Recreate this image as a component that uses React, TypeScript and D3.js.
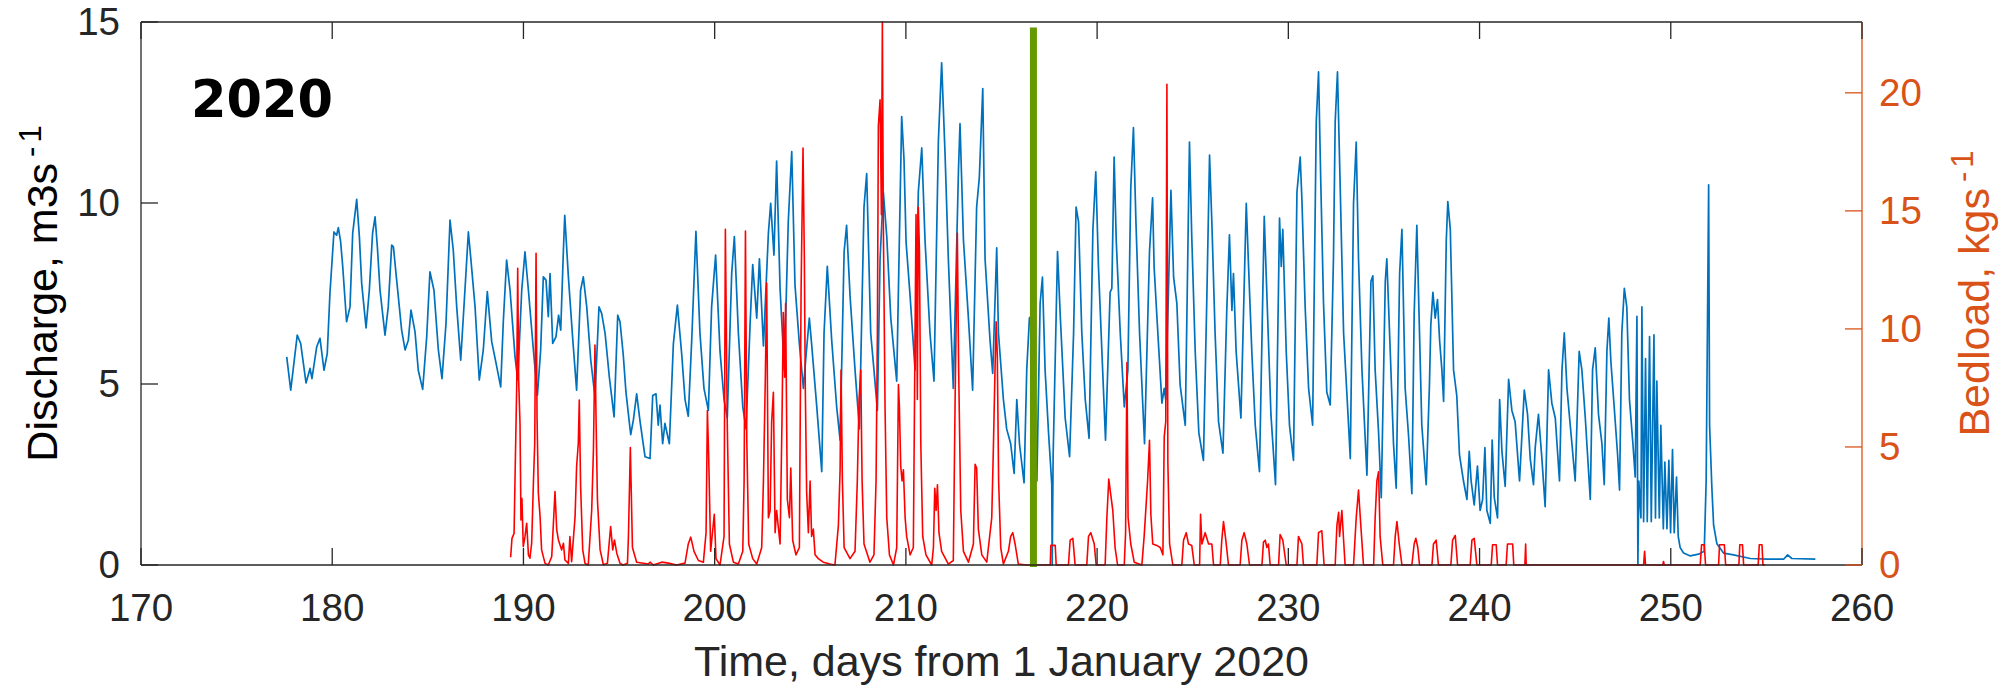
import React from 'react';
import * as d3 from 'd3';

// ---------- data ----------
const xTicks = [170, 180, 190, 200, 210, 220, 230, 240, 250, 260];
const leftTicks = [0, 5, 10, 15];
const rightTicks = [0, 5, 10, 15, 20];
const yearLabel = '2020';
const markerDay = 216.67;
const markerTop = 14.85;

// Discharge, m3/s : [day, value]
const discharge: [number, number][] = [
  [177.62,5.75],[177.83,4.83],[178.17,6.35],[178.35,6.12],[178.63,5.03],[178.84,5.43],[178.94,5.15],[179.19,6.03],[179.36,6.26],[179.57,5.38],[179.74,5.84],[179.88,7.50],[180.09,9.20],[180.23,9.11],[180.32,9.32],[180.44,8.93],[180.55,8.24],[180.75,6.72],[180.93,7.13],[181.07,9.16],[181.28,10.10],[181.42,9.07],[181.54,7.78],[181.77,6.55],[181.94,7.59],[182.11,9.16],[182.24,9.62],[182.36,8.79],[182.50,7.59],[182.76,6.35],[182.93,7.13],[183.11,8.84],[183.20,8.79],[183.37,7.87],[183.63,6.49],[183.81,5.94],[183.98,6.21],[184.12,7.04],[184.33,6.44],[184.50,5.38],[184.73,4.85],[184.94,6.30],[185.11,8.10],[185.32,7.59],[185.55,5.94],[185.74,5.15],[185.95,6.67],[186.16,9.53],[186.33,8.70],[186.51,7.13],[186.72,5.66],[186.94,7.59],[187.12,9.20],[187.24,8.51],[187.47,7.13],[187.69,5.11],[187.90,5.94],[188.11,7.55],[188.34,6.17],[188.57,5.57],[188.81,4.92],[188.95,6.76],[189.12,8.42],[189.30,7.59],[189.56,5.75],[189.70,5.11],[189.91,7.59],[190.08,8.65],[190.26,7.59],[190.52,5.94],[190.73,4.69],[190.90,5.94],[191.04,7.96],[191.18,7.87],[191.30,6.86],[191.39,8.05],[191.53,6.12],[191.70,6.30],[191.84,6.90],[191.95,6.49],[192.09,8.70],[192.16,9.66],[192.35,7.96],[192.57,6.30],[192.78,4.83],[192.99,7.59],[193.13,7.96],[193.31,7.13],[193.52,5.66],[193.74,4.65],[193.95,7.13],[194.09,6.95],[194.27,6.40],[194.49,5.20],[194.74,4.09],[194.93,6.90],
  [195.05,6.72],[195.22,5.80],[195.36,4.78],[195.49,4.16],[195.61,3.60],[195.75,4.01],[195.92,4.73],[196.10,3.96],[196.36,2.99],[196.62,2.94],[196.76,4.68],[196.93,4.73],[197.05,3.86],[197.14,4.42],[197.28,3.35],[197.40,3.91],[197.63,3.35],[197.84,6.11],[198.05,7.18],[198.28,5.80],[198.45,4.57],[198.62,4.11],[198.80,6.21],[199.02,9.22],[199.23,6.41],[199.44,4.88],[199.67,4.27],[199.84,7.13],[200.05,8.56],[200.28,5.90],[200.49,4.57],[200.66,4.06],[200.89,8.05],[201.03,9.07],[201.24,6.41],[201.47,4.37],[201.64,3.76],[201.85,6.62],[201.99,8.30],[202.20,6.82],[202.34,8.46],[202.55,6.05],[202.81,9.17],[202.93,9.99],[203.10,8.56],[203.24,11.16],[203.42,7.64],[203.64,5.39],[203.85,9.48],[204.03,11.42],[204.20,7.74],[204.43,6.11],[204.64,4.88],[204.78,5.80],[204.95,6.82],[205.07,6.11],[205.34,4.37],[205.60,2.58],[205.72,6.41],[205.89,8.25],[206.12,6.21],[206.38,4.37],[206.56,3.45],[206.77,8.66],[206.90,9.38],[207.08,7.43],[207.34,5.39],[207.57,3.76],[207.81,9.89],[207.95,10.81],[208.16,6.41],[208.33,5.39],[208.51,4.27],[208.65,8.46],[208.82,10.30],[209.00,9.07],[209.21,6.82],[209.52,5.08],[209.78,12.39],[209.90,11.22],[210.01,8.92],[210.22,7.43],[210.48,5.39],[210.65,10.30],[210.83,11.52],[211.00,8.97],[211.26,6.41],[211.47,5.08],[211.70,11.73],[211.87,13.87],[212.05,11.32],[212.22,8.46],[212.48,4.88],[212.75,10.91],[212.83,12.19],[213.01,8.97],[213.27,6.82],[213.49,4.83],[213.70,9.89],[213.84,10.70],[214.02,13.16],[214.14,8.46],[214.40,6.21],[214.54,5.29],[214.75,8.76],[214.84,6.41],[215.10,4.57],[215.27,3.76],[215.48,3.35],[215.66,2.53],[215.80,4.57],[215.94,3.35],[216.18,2.27],[216.32,5.39],[216.46,6.82],[216.60,6.90],[216.85,2.32],
  [217.02,7.23],[217.14,7.95],[217.28,5.39],[217.46,3.65],[217.63,2.22],[217.65,0.0],[217.70,3.00],[217.93,8.66],[218.07,6.92],[218.33,4.06],[218.56,2.99],[218.77,6.41],[218.90,9.89],[219.03,9.48],[219.20,6.41],[219.38,4.57],[219.58,3.50],[219.78,9.27],[219.93,10.86],[220.07,8.25],[220.25,5.90],[220.44,3.45],[220.68,7.53],[220.77,7.64],[220.89,11.27],[221.00,8.97],[221.21,6.41],[221.42,4.37],[221.61,5.39],[221.76,10.40],[221.90,12.08],[222.03,9.48],[222.22,6.41],[222.48,3.35],[222.74,8.66],[222.90,10.14],[222.98,8.25],[223.12,6.92],[223.39,4.47],[223.51,4.88],[223.59,4.57],[223.86,10.35],[224.00,7.95],[224.17,7.23],[224.34,4.98],[224.61,3.86],[224.83,11.68],[224.95,9.07],[225.13,5.90],[225.32,3.65],[225.56,2.89],[225.74,7.43],[225.88,11.32],[226.00,9.48],[226.17,6.41],[226.35,3.96],[226.58,3.09],[226.78,7.03],[226.92,9.12],[227.05,7.03],[227.13,8.05],[227.27,5.90],[227.52,4.06],[227.80,9.99],[227.92,8.25],[228.09,5.90],[228.27,3.86],[228.49,2.58],[228.74,9.63],[228.88,7.43],[229.09,4.16],[229.33,2.22],[229.54,9.58],[229.63,8.25],[229.71,9.27],[229.89,5.90],[230.06,3.86],[230.27,2.89],[230.45,10.30],[230.62,11.27],[230.71,10.09],[230.88,7.13],[231.06,4.88],[231.27,3.86],[231.46,12.24],[231.58,13.62],[231.70,10.50],[231.84,7.23],[232.01,4.78],[232.19,4.42],[232.36,8.46],[232.45,12.24],[232.57,13.62],[232.71,10.50],[232.89,6.41],[233.15,3.86],[233.24,2.94],[233.41,9.99],[233.55,11.68],[233.67,8.46],[233.85,5.39],[234.11,2.48],[234.32,7.84],[234.42,7.99],[234.54,5.39],[234.72,3.65],[234.86,1.86],[235.07,7.84],[235.15,8.46],[235.33,5.90],[235.50,3.35],[235.64,2.12],[235.82,8.05],
  [235.94,9.27],[236.11,4.88],[236.29,3.55],[236.46,1.97],[236.58,6.92],[236.72,9.38],[236.86,6.41],[236.98,3.86],[237.21,2.22],[237.38,4.98],[237.45,6.62],[237.56,7.53],[237.68,6.82],[237.80,7.33],[237.91,6.21],[238.03,5.39],[238.12,4.52],[238.26,8.97],[238.34,10.04],[238.47,9.27],[238.64,5.39],[238.81,4.67],[238.95,3.04],[239.16,2.32],[239.34,1.81],[239.46,3.14],[239.56,2.32],[239.72,1.66],[239.89,2.73],[240.03,1.51],[240.16,1.81],[240.28,3.24],[240.38,1.51],[240.56,1.15],[240.66,3.45],[240.77,1.86],[240.94,1.30],[241.05,4.57],[241.17,3.14],[241.34,2.17],[241.52,5.13],[241.69,4.27],[241.86,3.96],[242.09,2.32],[242.34,4.83],[242.51,4.16],[242.65,2.94],[242.82,2.22],[242.91,3.24],[243.08,4.16],[243.26,2.94],[243.43,1.61],[243.61,5.39],[243.78,4.47],[243.96,4.06],[244.18,2.32],[244.31,5.39],[244.43,6.41],[244.57,4.88],[244.83,3.35],[245.00,2.32],[245.21,5.90],[245.35,5.39],[245.53,4.06],[245.79,1.81],[245.91,5.39],[246.05,6.00],[246.22,4.16],[246.40,3.35],[246.52,2.22],[246.66,5.90],[246.76,6.82],[246.87,5.60],[247.04,4.37],[247.22,3.04],[247.32,2.07],[247.44,6.41],[247.57,7.64],[247.70,7.13],[247.84,4.57],[248.02,3.35],[248.14,2.43],[248.23,6.87],[248.28,0.0],[248.33,2.32],[248.44,1.30],[248.49,7.13],[248.58,1.20],[248.68,5.70],[248.77,1.20],[248.89,6.31],[248.98,1.20],[249.12,6.36],[249.20,1.30],[249.27,5.08],[249.40,1.30],[249.48,3.86],[249.61,1.00],[249.69,2.84],[249.80,1.00],[249.90,2.89],[249.99,0.89],[250.09,3.19],[250.18,0.89],[250.30,2.43],[250.39,0.79],[250.49,0.48],[250.67,0.33],[251.02,0.25],[251.45,0.30],[251.75,0.38],[251.85,2.32],[251.98,10.50],[252.03,3.86],[252.15,2.12],[252.24,1.10],[252.41,0.59],[252.76,0.33],[253.28,0.28],[254.16,0.18],[255.03,0.16],[255.90,0.16],[256.11,0.28],[256.33,0.18],[257.56,0.16]
];

// Bedload, kg/s : [day, value]
const bedload: [number, number][] = [
  [189.33,0.33],[189.40,1.13],[189.51,1.34],[189.56,3.67],[189.65,7.70],[189.70,12.57],[189.75,7.84],[189.82,6.00],[189.87,1.91],[189.92,2.83],[189.99,0.78],[190.08,1.20],[190.17,1.77],[190.26,0.43],[190.34,0.29],[190.43,0.92],[190.52,3.46],[190.59,5.16],[190.66,13.20],[190.71,6.29],[190.78,3.04],[190.87,2.05],[190.95,0.64],[191.13,0.07],[191.30,0],[191.48,0.36],[191.65,3.11],[191.74,1.49],[191.83,1.06],[192.00,0.64],[192.09,0.92],[192.17,0.21],[192.35,0.07],[192.43,1.20],[192.52,0.14],[192.70,2.05],[192.78,4.17],[192.87,5.16],[192.92,6.99],[192.99,3.32],[193.10,0.64],[193.22,0.07],[193.39,0],[193.57,2.33],[193.66,4.87],[193.74,9.32],[193.80,6.00],[193.87,2.76],[194.01,0.64],[194.18,0.01],[194.39,0.07],[194.56,1.63],[194.67,0.64],[194.76,1.06],[194.88,0.50],[195.05,0.07],[195.22,0],[195.44,0.07],
  [195.49,1.21],[195.59,4.97],[195.70,0.74],[195.92,0.12],[196.53,0.04],[196.62,0.12],[196.79,0],[197.23,0.12],[197.58,0.08],[198.01,0],[198.45,0.08],[198.62,0.89],[198.75,1.18],[198.92,0.58],[199.15,0.19],[199.41,0.12],[199.55,1.37],[199.62,6.54],[199.69,4.50],[199.79,0.58],[199.98,2.15],[200.07,0.27],[200.28,0],[200.49,1.21],[200.56,14.22],[200.66,5.91],[200.77,0.89],[200.98,0.12],[201.24,0.04],[201.47,0.58],[201.54,3.56],[201.61,14.14],[201.68,5.28],[201.78,0.89],[201.99,0.27],[202.20,0.04],[202.46,0.74],[202.55,3.56],[202.65,7.95],[202.72,11.94],[202.81,2.00],[202.90,2.31],[202.98,6.07],[203.07,7.32],[203.16,1.37],[203.24,2.31],[203.42,0.89],[203.52,6.07],[203.59,10.69],[203.66,7.95],[203.71,11.08],[203.80,2.78],[203.91,2.00],[203.98,4.11],[204.08,1.05],[204.25,0.43],[204.43,0.74],[204.52,11.71],[204.62,17.66],[204.69,12.96],[204.74,7.48],[204.81,3.09],[204.90,1.37],[204.99,3.56],[205.07,1.21],[205.16,1.52],[205.25,0.43],[205.42,0.27],[205.68,0.12],[206.03,0.04],[206.29,0],[206.47,1.68],[206.56,4.03],[206.61,8.26],[206.68,3.56],[206.77,0.74],[207.08,0.27],[207.34,0.58],[207.46,3.56],[207.55,7.01],[207.64,8.26],[207.71,3.56],[207.81,0.89],[208.12,0.12],[208.33,0.43],[208.44,3.56],[208.51,9.83],[208.56,18.60],[208.65,19.70],[208.72,14.84],[208.77,23.0],[208.82,14.53],[208.91,6.69],[209.00,2.00],[209.14,0.43],[209.35,0],[209.52,0.74],[209.61,7.64],[209.66,6.69],[209.73,4.19],[209.80,3.56],[209.87,4.03],[209.96,2.00],[210.04,1.21],[210.22,0.43],[210.39,0.74],[210.48,9.83],[210.53,14.84],[210.60,7.01],[210.65,15.15],[210.71,13.27],[210.78,5.13],[210.88,1.21],[211.05,0.43],[211.35,0],[211.44,0.74],[211.51,3.25],[211.58,2.31],[211.65,3.40],[211.73,1.37],[211.87,0.58],[212.22,0.04],[212.48,0.19],[212.57,6.69],[212.69,14.06],[212.76,8.26],[212.87,2.31],[213.01,0.58],[213.27,0.12],[213.53,0.89],[213.62,4.27],[213.70,4.11],[213.79,1.52],[213.97,0.43],[214.23,0.12],[214.49,2.00],[214.58,5.13],[214.66,8.26],[214.72,10.30],[214.78,8.89],[214.85,3.56],[214.96,0.74],[215.10,0.04],[215.36,0.58],[215.48,1.21],[215.59,1.37],[215.71,0.89],[215.88,0.04],[216.32,0],
  [217.55,0],[217.58,0.83],[217.81,0.83],[217.86,0],[218.50,0],[218.59,1.05],[218.73,1.13],[218.85,0],[219.46,0],[219.55,1.21],[219.67,1.37],[219.85,0.89],[219.95,0],[220.42,0],[220.51,2.00],[220.61,3.64],[220.72,2.94],[220.82,2.31],[220.94,0.74],[221.07,0],[221.42,0],[221.49,1.37],[221.56,8.57],[221.62,2.00],[221.76,0.89],[221.94,0.12],[222.34,0],[222.46,1.21],[222.64,3.56],[222.74,5.28],[222.81,2.15],[222.91,0.89],[223.12,0.83],[223.30,0.74],[223.44,0.43],[223.51,5.44],[223.59,6.07],[223.65,20.36],[223.70,4.34],[223.79,0.89],[223.96,0],[224.43,0],[224.52,1.05],[224.66,1.37],[224.78,0.89],[224.95,0.83],[225.08,0],[225.36,0],[225.41,2.15],[225.48,0.89],[225.65,1.37],[225.83,0.89],[226.00,0.89],[226.09,0],[226.44,0],[226.52,1.05],[226.61,1.84],[226.73,1.05],[226.87,0],[227.48,0],[227.57,1.05],[227.69,1.37],[227.83,0.89],[227.97,0],[228.62,0],[228.70,0.97],[228.79,1.05],[228.88,0.74],[228.96,0.89],[229.05,0],[229.49,0],[229.57,1.29],[229.71,1.05],[229.89,0],[230.45,0],[230.53,1.21],[230.71,0.89],[230.79,0],[231.49,0],[231.58,1.37],[231.75,1.45],[231.87,0],[232.45,0],[232.54,1.68],[232.63,2.23],[232.68,1.21],[232.80,2.31],[232.89,1.05],[232.97,0],[233.41,0],[233.55,2.00],[233.67,3.17],[233.79,1.68],[233.93,0],[234.46,0],[234.54,2.00],[234.63,3.56],[234.72,3.95],[234.80,1.21],[234.94,0],[235.50,0],[235.59,1.21],[235.68,1.84],[235.80,0.89],[235.94,0],[236.46,0],
  [236.58,0.89],[236.67,1.13],[236.77,0.74],[236.86,0],[237.51,0],[237.59,0.89],[237.73,1.05],[237.85,0],[238.50,0],[238.59,1.05],[238.73,1.25],[238.85,0],[239.51,0],[239.60,1.05],[239.72,1.13],[239.86,0],[240.61,0],[240.68,0.86],[240.87,0.86],[240.94,0],[241.39,0],[241.46,0.89],[241.73,0.89],[241.79,0],[242.37,0],[242.41,0.89],[242.44,0],[248.58,0],[248.63,0.58],[248.68,0],[249.58,0],[249.62,0.15],[249.66,0],[251.54,0],[251.61,0.86],[251.75,0.86],[251.82,0],[252.50,0],[252.55,0.86],[252.80,0.86],[252.87,0],[253.56,0],[253.61,0.86],[253.75,0.86],[253.81,0],[254.57,0],[254.63,0.86],[254.77,0.86],[254.82,0],[254.94,0]
];

// ---------- styling ----------
const W = 2014;
const H = 689;
const margin = { left: 141, right: 152, top: 22, bottom: 124 };
const axisColor = '#262626';
const rightColor = '#D95319';
const blue = '#0072BD';
const red = '#FF0000';
const green = '#669900';
const font = '"Liberation Sans", Arial, Helvetica, sans-serif';
const tickFont = 38.5;
const labelFont = 43;
const tickLen = 17;

export default function App() {
  const x0 = margin.left;
  const x1 = W - margin.right;
  const y0 = H - margin.bottom;
  const y1 = margin.top;

  const x = d3.scaleLinear().domain([170, 260]).range([x0, x1]);
  const yL = d3.scaleLinear().domain([0, 15]).range([y0, y1]);
  const yR = d3.scaleLinear().domain([0, 23]).range([y0, y1]);

  const lineQ = d3.line<[number, number]>().x(d => x(d[0])).y(d => yL(d[1]));
  const lineB = d3.line<[number, number]>().x(d => x(d[0])).y(d => yR(d[1]));

  const midY = (y0 + y1) / 2;

  return (
    <svg width={W} height={H} style={{ position: 'absolute', left: 0, top: 0, background: '#fff' }} fontFamily={font}>
      <rect x={0} y={0} width={W} height={H} fill="#fff" />
      <defs>
        <clipPath id="plotClip">
          <rect x={x0} y={y1 - 2} width={x1 - x0} height={y0 - y1 + 4} />
        </clipPath>
      </defs>

      {/* data */}
      <g clipPath="url(#plotClip)">
        <path d={lineQ(discharge) || ''} fill="none" stroke={blue} strokeWidth={1.7} strokeLinejoin="round" />
        <path d={lineB(bedload) || ''} fill="none" stroke={red} strokeWidth={1.6} strokeLinejoin="round" />
      </g>
      <line x1={x(markerDay)} x2={x(markerDay)} y1={yL(0) + 2} y2={yL(markerTop)} stroke={green} strokeWidth={7} />

      {/* axes box */}
      <line x1={x0} x2={x1} y1={y0} y2={y0} stroke={axisColor} strokeWidth={1.3} />
      <line x1={x0} x2={x1} y1={y1} y2={y1} stroke={axisColor} strokeWidth={1.3} />
      <line x1={x0} x2={x0} y1={y0} y2={y1} stroke={axisColor} strokeWidth={1.3} />
      <line x1={x1} x2={x1} y1={y0} y2={y1} stroke={rightColor} strokeWidth={1.3} />

      {/* x ticks */}
      {xTicks.map(t => (
        <g key={'x' + t}>
          <line x1={x(t)} x2={x(t)} y1={y0} y2={y0 - tickLen} stroke={axisColor} strokeWidth={1.3} />
          <line x1={x(t)} x2={x(t)} y1={y1} y2={y1 + tickLen} stroke={axisColor} strokeWidth={1.3} />
          <text x={x(t)} y={621} textAnchor="middle" fontSize={tickFont} fill={axisColor}>{t}</text>
        </g>
      ))}

      {/* left ticks */}
      {leftTicks.map(t => (
        <g key={'l' + t}>
          <line x1={x0} x2={x0 + tickLen} y1={yL(t)} y2={yL(t)} stroke={axisColor} strokeWidth={1.3} />
          <text x={120} y={yL(t)} dy="0.35em" textAnchor="end" fontSize={tickFont} fill={axisColor}>{t}</text>
        </g>
      ))}

      {/* right ticks */}
      {rightTicks.map(t => (
        <g key={'r' + t}>
          <line x1={x1} x2={x1 - tickLen} y1={yR(t)} y2={yR(t)} stroke={rightColor} strokeWidth={1.3} />
          <text x={1879} y={yR(t)} dy="0.35em" textAnchor="start" fontSize={tickFont} fill={rightColor}>{t}</text>
        </g>
      ))}

      {/* axis labels */}
      <text x={(x0 + x1) / 2} y={676} textAnchor="middle" fontSize={labelFont} fill={axisColor}>
        Time, days from 1 January 2020
      </text>
      <text transform={`translate(57, ${midY}) rotate(-90)`} textAnchor="middle" fontSize={labelFont} fill="#000">
        Discharge, m3s
        <tspan dx={6} dy={-16} fontSize={labelFont * 0.72}>-</tspan>
        <tspan dx={4} fontSize={labelFont * 0.72}>1</tspan>
      </text>
      <text transform={`translate(1989, ${midY}) rotate(-90)`} textAnchor="middle" fontSize={labelFont} fill={rightColor}>
        Bedload, kgs
        <tspan dx={6} dy={-16} fontSize={labelFont * 0.72}>-</tspan>
        <tspan dx={4} fontSize={labelFont * 0.72}>1</tspan>
      </text>

      {/* year label */}
      <text x={191} y={117} fontFamily='"DejaVu Sans", sans-serif' fontWeight="bold" fontSize={51} fill="#000">{yearLabel}</text>
    </svg>
  );
}
